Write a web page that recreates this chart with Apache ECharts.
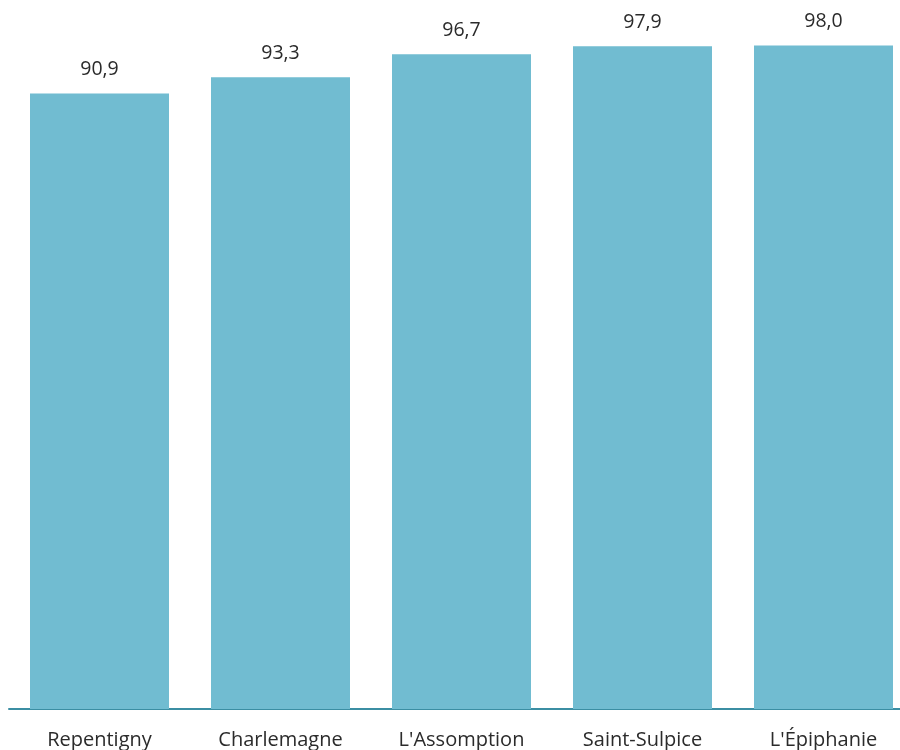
<!DOCTYPE html>
<html>
<head>
<meta charset="utf-8">
<script src="https://cdn.jsdelivr.net/npm/echarts@6/dist/echarts.min.js"></script>
<style>html,body{margin:0;padding:0;background:#fff}#c{width:900px;height:750px}</style>
</head>
<body>
<div id="c"></div>
<script>
const categories = ["Repentigny", "Charlemagne", "L'Assomption", "Saint-Sulpice", "L'Épiphanie"];
const values = [90.9, 93.3, 96.7, 97.9, 98.0];

const chart = echarts.init(document.getElementById('c'), null, {renderer: 'canvas'});
chart.setOption({
  animation: false,
  grid: {left: 9, width: 905, top: 32, bottom: 41, containLabel: false, outerBoundsMode: 'none'},
  xAxis: {
    type: 'category',
    data: categories,
    axisLine: {show: true, lineStyle: {color: '#3b8ea3', width: 2}},
    axisTick: {show: false},
    axisLabel: {color: '#2b2b2b', fontSize: 20, fontFamily: 'Open Sans', fontWeight: 400, margin: 21}
  },
  yAxis: {
    type: 'value', min: 0, max: 100, show: false,
    splitLine: {show: false}
  },
  series: [{
    type: 'bar',
    data: values,
    barWidth: 139,
    itemStyle: {color: '#71bcd1'},
    label: {
      show: true, position: 'top', distance: 14,
      color: '#2b2b2b', fontSize: 19.5, fontFamily: 'Open Sans', fontWeight: 400,
      formatter: p => p.value.toFixed(1).replace('.', ',')
    }
  }]
});
</script>
</body>
</html>
